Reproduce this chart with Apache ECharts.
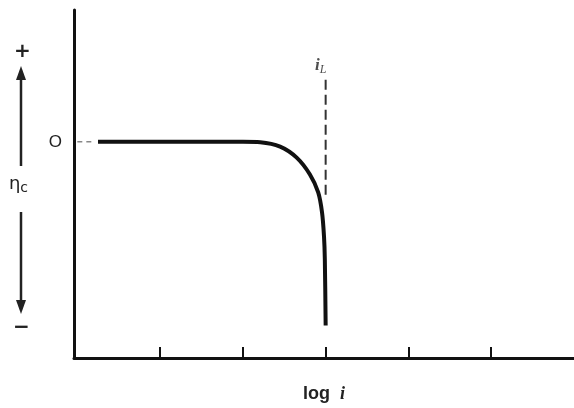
<!DOCTYPE html>
<html><head><meta charset="utf-8">
<script src="https://cdn.jsdelivr.net/npm/echarts@6/dist/echarts.min.js"></script>
<style>html,body{margin:0;padding:0;background:#fff}#c{width:574px;height:408px}</style>
</head><body><div id="c"></div>
<script>
// Data
const xTicks = [1, 2, 3, 4, 5];
const curveX = [0.25, 2.0, 2.21, 2.45, 2.65, 2.81, 2.91, 2.956, 2.98, 2.99, 3.0];
const curveY = [0, 0, -0.002, -0.022, -0.073, -0.151, -0.234, -0.326, -0.437, -0.543, -0.85];
const zeroLeadX = [0, 0.18];
const zeroLeadY = [0, 0];
const limitX = [3.0, 3.0];
const limitY = [0.287, -0.25];
const yLabelValues = [0];

const zip = (a, b) => a.map((v, i) => [v, b[i]]);
const chart = echarts.init(document.getElementById('c'));
chart.setOption({
  animation: false,
  backgroundColor: '#fff',
  grid: { left: 74, right: 0, top: 10, bottom: 49 },
  xAxis: {
    type: 'value', min: -0.04, max: 6.0,
    name: '{a|log  }{b|i}', nameLocation: 'middle', nameGap: 27,
    nameTextStyle: { rich: {
      a: { fontFamily: 'Liberation Sans', fontWeight: 'bold', fontSize: 18, color: '#222' },
      b: { fontFamily: 'Liberation Serif', fontStyle: 'italic', fontWeight: 'bold', fontSize: 18, color: '#222' } } },
    axisLine: { onZero: false, lineStyle: { color: '#111', width: 3 } },
    axisTick: { show: true, inside: true, length: 11, customValues: xTicks, lineStyle: { color: '#111', width: 2 } },
    axisLabel: { show: false },
    splitLine: { show: false }
  },
  yAxis: {
    type: 'value', min: -1, max: 0.61,
    name: '{a|η}{b|c}', nameLocation: 'middle', nameGap: 46, nameRotate: 0,
    nameTextStyle: { rich: {
      a: { fontFamily: 'DejaVu Sans', fontSize: 18, color: '#222' },
      b: { fontFamily: 'DejaVu Sans', fontSize: 14, color: '#222', padding: [8, 0, 0, 0] } } },
    axisLine: { show: true, onZero: false, lineStyle: { color: '#111', width: 3 } },
    axisTick: { show: false },
    axisLabel: { customValues: yLabelValues, formatter: () => 'O', margin: 12,
      fontFamily: 'Liberation Sans', fontSize: 17, color: '#222' },
    splitLine: { show: false }
  },
  series: [
    { type: 'line', data: zip(zeroLeadX, zeroLeadY), showSymbol: false, silent: true,
      lineStyle: { color: '#888', width: 1.5, type: [5, 4] } },
    { type: 'line', data: zip(limitX, limitY), showSymbol: false, silent: true,
      lineStyle: { color: '#333', width: 2, type: [10, 5] },
      label: { show: false } },
    { type: 'scatter', data: [[limitX[0], limitY[0]]], symbolSize: 0, silent: true,
      label: { show: true, position: 'top', distance: 4, offset: [-5, 0],
        formatter: '{i|i}{s|L}',
        rich: { i: { fontFamily: 'Liberation Serif', fontStyle: 'italic', fontWeight: 'bold', fontSize: 17, color: '#222' },
                s: { fontFamily: 'Liberation Serif', fontStyle: 'italic', fontSize: 12, color: '#222', padding: [8, 0, 0, 0] } } } },
    { type: 'line', data: zip(curveX, curveY), showSymbol: false, silent: true,
      smooth: 0.3,
      lineStyle: { color: '#111', width: 4, cap: 'butt', join: 'round' } }
  ],
  graphic: [
    { type: 'text', left: 14, top: 42, style: { text: '+', fontFamily: 'DejaVu Sans', fontWeight: 'bold', fontSize: 20, fill: '#222' } },
    { type: 'text', left: 13, top: 318, style: { text: '−', fontFamily: 'DejaVu Sans', fontWeight: 'bold', fontSize: 20, fill: '#222' } },
    { type: 'line', shape: { x1: 21, y1: 76, x2: 21, y2: 166 }, style: { stroke: '#222', lineWidth: 2.5 } },
    { type: 'polygon', shape: { points: [[21, 66], [16, 80], [26, 80]] }, style: { fill: '#222' } },
    { type: 'line', shape: { x1: 21, y1: 212, x2: 21, y2: 302 }, style: { stroke: '#222', lineWidth: 2.5 } },
    { type: 'polygon', shape: { points: [[21, 314], [16, 300], [26, 300]] }, style: { fill: '#222' } }
  ]
});
</script></body></html>
